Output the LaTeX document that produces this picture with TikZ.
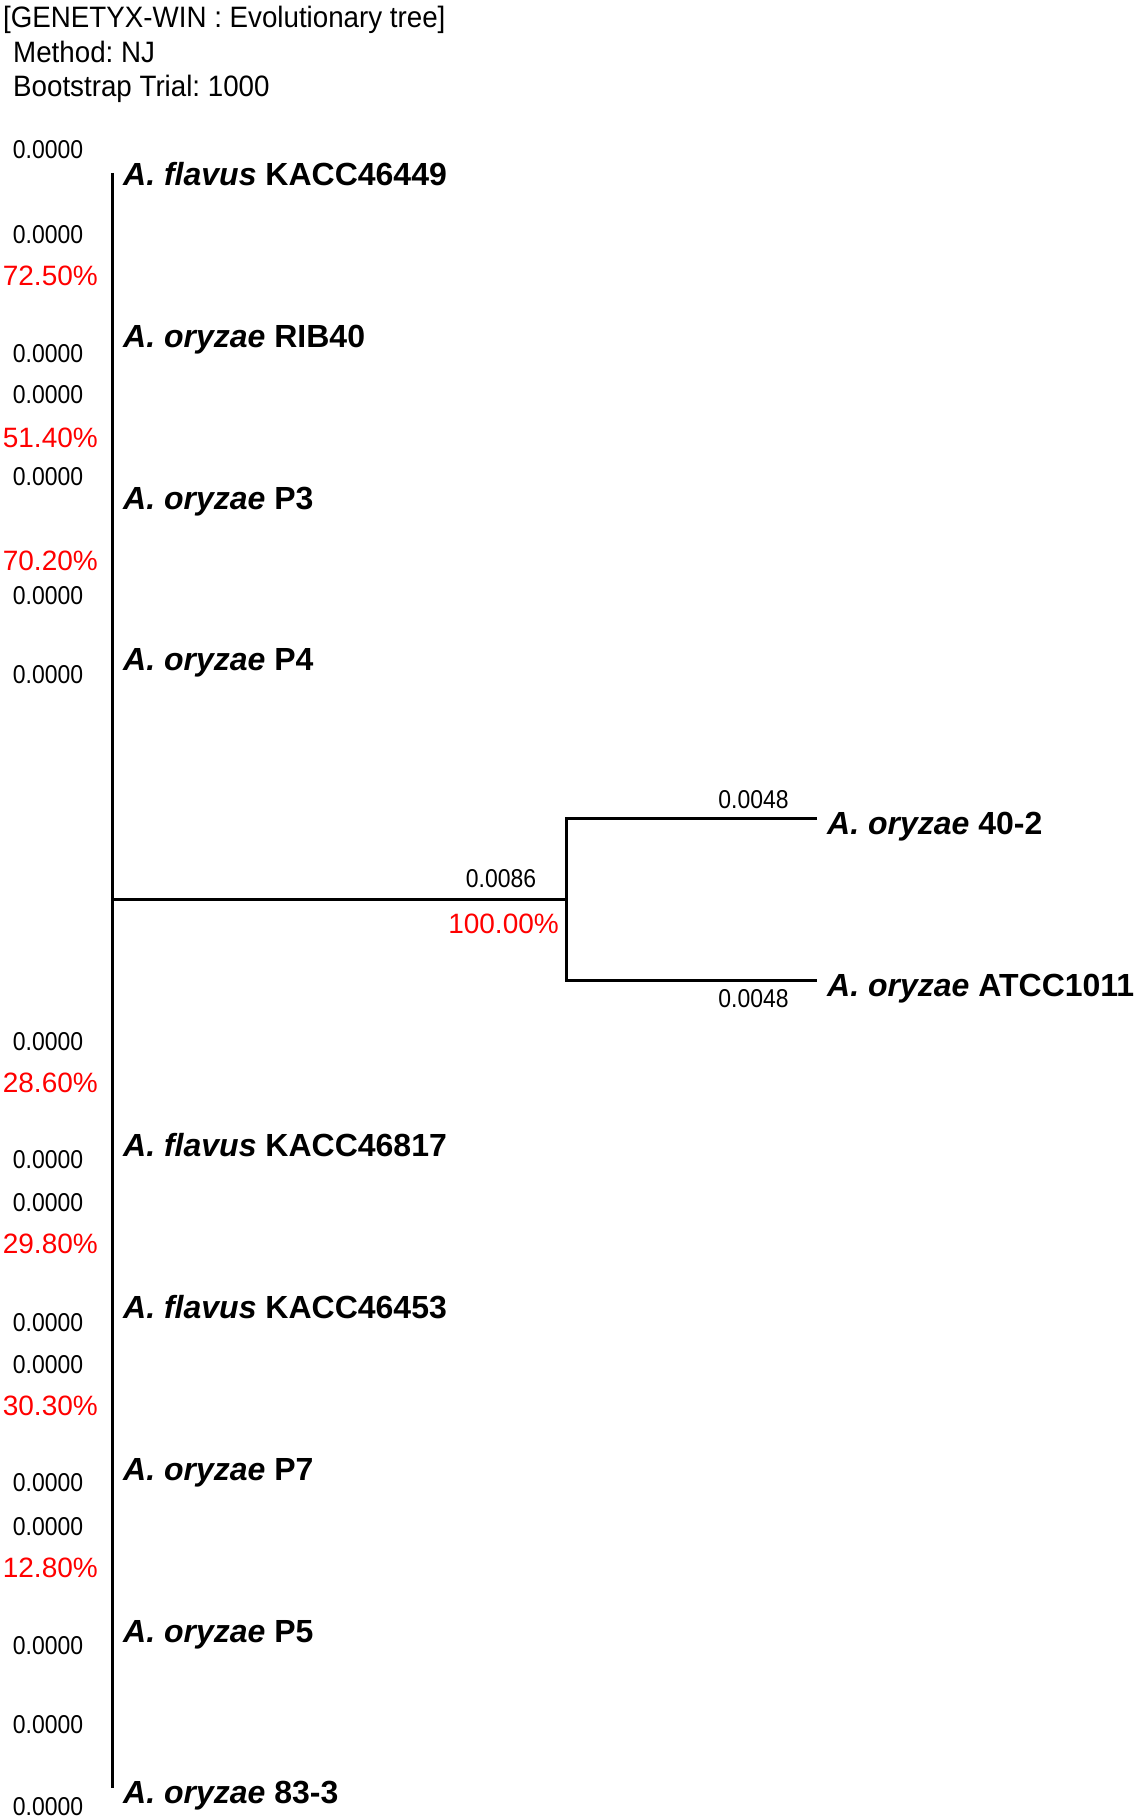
\documentclass[tikz,border=0pt]{standalone}
\usepackage{fontspec}
\setmainfont{Liberation Sans}
\newfontfamily\narrowfont[FakeStretch=0.89]{Liberation Sans}
\newfontfamily\hdrfamily[FakeStretch=0.94]{Liberation Sans}
\definecolor{bsred}{RGB}{255,0,0}
\frenchspacing
\tikzset{
  hdr/.style={anchor=base west, inner sep=0pt, font=\hdrfamily\fontsize{29.5}{32}\selectfont},
  leafname/.style={anchor=base west, inner sep=0pt, font=\fontsize{32}{36}\selectfont\bfseries},
  dist/.style={anchor=base, inner sep=0pt, font=\narrowfont\fontsize{25.8}{28}\selectfont},
  boot/.style={anchor=base east, inner sep=0pt, text=bsred, font=\fontsize{28}{30}\selectfont},
  branch/.style={line width=3pt, line join=miter},
}
\begin{document}
\begin{tikzpicture}[x=1pt,y=-1pt]
\fill[white] (0,0) rectangle (1134,1819);
\useasboundingbox (0,0) rectangle (1134,1819);

% header
\node[hdr] (h1) at (3,28) {[GENETYX-WIN : Evolutionary tree]};
\node[hdr] (h2) at (13,63) {Method: NJ};
\node[hdr] (h3) at (13,97) {Bootstrap Trial: 1000};

% leaf names on the main (zero-length) branches
\node[leafname] (l1)  at (123,185.5) {\itshape A. flavus \upshape KACC46449};
\node[leafname] (l2)  at (123,347.3) {\itshape A. oryzae \upshape RIB40};
\node[leafname] (l3)  at (123,509.1) {\itshape A. oryzae \upshape P3};
\node[leafname] (l4)  at (123,670.9) {\itshape A. oryzae \upshape P4};
\node[leafname] (l7)  at (123,1156.9) {\itshape A. flavus \upshape KACC46817};
\node[leafname] (l8)  at (123,1318.7) {\itshape A. flavus \upshape KACC46453};
\node[leafname] (l9)  at (123,1480.5) {\itshape A. oryzae \upshape P7};
\node[leafname] (l10) at (123,1642.3) {\itshape A. oryzae \upshape P5};
\node[leafname] (l11) at (123,1803.1) {\itshape A. oryzae \upshape 83-3};

% clade leaves
\node[leafname] (l5) at (827,834) {\itshape A. oryzae \upshape 40-2};
\node[leafname] (l6) at (827,996) {\itshape A. oryzae \upshape ATCC1011};

% tree geometry
\coordinate (vtop) at (112,173);
\coordinate (vbot) at (112,1788);
\coordinate (root) at (112,899);
\coordinate (cmid) at (566,899);
\coordinate (ctop) at (566,818);
\coordinate (cbot) at (566,980);
\coordinate (tip5) at (817,818);
\coordinate (tip6) at (817,980);

\draw[branch] (vtop) -- (vbot);
\draw[branch] (root) -- (cmid);
\draw[branch] (tip5) -- (ctop) -- (cbot) -- (tip6);

% branch lengths (left column)
\foreach \n/\y in {d1/158.3, d2/243.3, d3/362.3, d4/403.3, d5/485.3, d6/604.3, d7/683.3,
                   d8/1050.3, d9/1168.3, d10/1211.3, d11/1331.3, d12/1373.3,
                   d13/1491.3, d14/1535.3, d15/1654.3, d16/1733.3, d17/1815.3}
  \node[dist] (\n) at (48,\y) {0.0000};

% bootstrap values (left column)
\node[boot] (b1) at (98,285) {72.50\%};
\node[boot] (b2) at (98,447) {51.40\%};
\node[boot] (b3) at (98,570) {70.20\%};
\node[boot] (b4) at (98,1092) {28.60\%};
\node[boot] (b5) at (98,1253) {29.80\%};
\node[boot] (b6) at (98,1415) {30.30\%};
\node[boot] (b7) at (98,1577) {12.80\%};

% clade labels
\node[dist] (dc) at (501,887) {0.0086};
\node[boot] (bc) at (559,933) {100.00\%};
\node[dist] (d5a) at (753.5,808) {0.0048};
\node[dist] (d6a) at (753.5,1007) {0.0048};
\end{tikzpicture}
\end{document}
